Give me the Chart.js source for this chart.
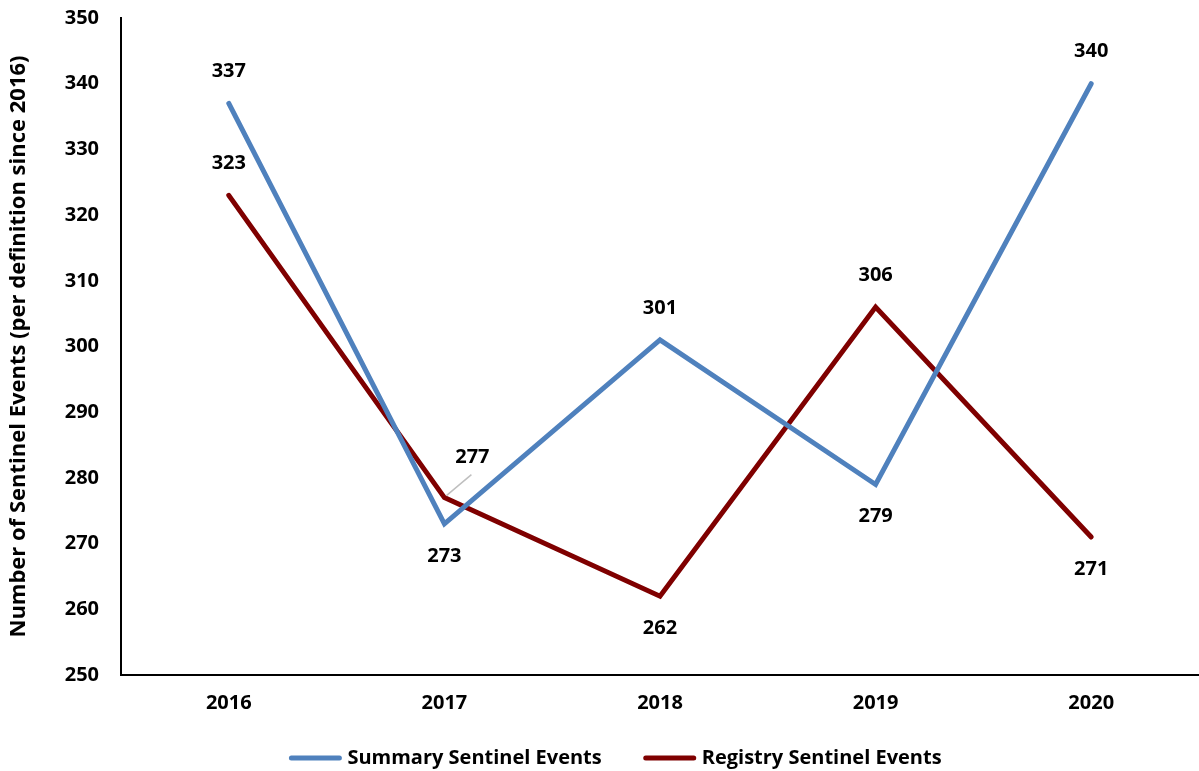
<!DOCTYPE html>
<html>
<head>
<meta charset="utf-8">
<script src="https://cdn.jsdelivr.net/npm/chart.js@4.4.1/dist/chart.umd.min.js"></script>
<style>
  html, body { margin: 0; padding: 0; background: #ffffff; }
  #wrap { width: 1199px; height: 771px; position: relative; }
</style>
</head>
<body>
<div id="wrap"><canvas id="chart"></canvas></div>
<script>
// Sentinel events per year
const years = ['2016', '2017', '2018', '2019', '2020'];
const summaryEvents = [337, 273, 301, 279, 340];
const registryEvents = [323, 277, 262, 306, 271];
const yTicks = [250, 260, 270, 280, 290, 300, 310, 320, 330, 340, 350];

// where each value label sits relative to its point
const summaryLabelPlacement = ['above', 'below', 'above', 'below', 'above'];
const registryLabelPlacement = ['above', 'leader', 'below', 'above', 'below'];

const FONT = '"Open Sans", Lato, sans-serif';
const BLUE = '#4f81bd';
const DARKRED = '#7f0000';

// value labels next to each point
const valueLabels = {
  id: 'valueLabels',
  afterDatasetsDraw(chart) {
    const ctx = chart.ctx;
    ctx.save();
    ctx.font = 'bold 20px ' + FONT;
    ctx.fillStyle = '#000';
    ctx.textAlign = 'center';
    ctx.textBaseline = 'middle';
    chart.data.datasets.forEach((ds, di) => {
      const meta = chart.getDatasetMeta(di);
      const placement = ds.labelPlacement;
      meta.data.forEach((pt, i) => {
        const v = ds.data[i];
        const p = placement[i];
        let x = pt.x, y = pt.y;
        if (p === 'above') {
          y -= 32;
        } else if (p === 'below') {
          y += 32;
        } else if (p === 'leader') {
          x += 28; y -= 40;
          ctx.save();
          ctx.strokeStyle = '#bfbfbf';
          ctx.lineWidth = 1.5;
          ctx.beginPath();
          ctx.moveTo(pt.x + 2, pt.y - 2);
          ctx.lineTo(pt.x + 27, pt.y - 23);
          ctx.stroke();
          ctx.restore();
        }
        ctx.fillText(String(v), x, y);
      });
    });
    ctx.restore();
  }
};

// legend row under the x axis: line sample followed by series name
const lineLegend = {
  id: 'lineLegend',
  afterDraw(chart) {
    const ctx = chart.ctx;
    const sample = 52, gapText = 6, gapItem = 42;
    const y = chart.height - 13;
    ctx.save();
    ctx.font = 'bold 20px ' + FONT;
    ctx.textBaseline = 'middle';
    ctx.textAlign = 'left';
    const items = chart.data.datasets.map(ds => ({
      ds, w: sample + gapText + ctx.measureText(ds.label).width
    }));
    const total = items.reduce((s, it) => s + it.w, 0) + gapItem * (items.length - 1);
    let x = chart.width / 2 + 16 - total / 2;
    items.forEach(it => {
      ctx.strokeStyle = it.ds.borderColor;
      ctx.lineWidth = 5;
      ctx.lineCap = 'round';
      ctx.beginPath();
      ctx.moveTo(x + 2, y);
      ctx.lineTo(x + sample - 2, y);
      ctx.stroke();
      ctx.fillStyle = '#000';
      ctx.fillText(it.ds.label, x + sample + gapText, y);
      x += it.w + gapItem;
    });
    ctx.restore();
  }
};

new Chart(document.getElementById('chart'), {
  type: 'line',
  data: {
    labels: years,
    datasets: [
      {
        label: 'Summary Sentinel Events',
        data: summaryEvents,
        labelPlacement: summaryLabelPlacement,
        borderColor: BLUE,
        backgroundColor: BLUE,
        borderWidth: 5,
        borderCapStyle: 'round',
        borderJoinStyle: 'miter',
        pointRadius: 0,
        pointHoverRadius: 0,
        tension: 0,
        fill: false
      },
      {
        label: 'Registry Sentinel Events',
        data: registryEvents,
        labelPlacement: registryLabelPlacement,
        borderColor: DARKRED,
        backgroundColor: DARKRED,
        borderWidth: 5,
        borderCapStyle: 'round',
        borderJoinStyle: 'miter',
        pointRadius: 0,
        pointHoverRadius: 0,
        tension: 0,
        fill: false
      }
    ]
  },
  options: {
    responsive: true,
    maintainAspectRatio: false,
    animation: false,
    layout: { padding: { top: 18, right: 0, left: 6, bottom: 40 } },
    plugins: {
      tooltip: { enabled: false },
      legend: { display: false }
    },
    scales: {
      x: {
        offset: true,
        grid: { display: false, drawTicks: false },
        border: { display: true, color: '#000', width: 2 },
        ticks: {
          color: '#000',
          padding: 16,
          font: { family: FONT, size: 20, weight: 'bold' }
        },
        afterFit(scale) { scale.height = 56; }
      },
      y: {
        min: 250,
        max: 350,
        afterBuildTicks(scale) { scale.ticks = yTicks.map(v => ({ value: v })); },
        grid: { display: false, drawTicks: false },
        border: { display: true, color: '#000', width: 2 },
        ticks: {
          color: '#000',
          padding: 22,
          font: { family: FONT, size: 20, weight: 'bold' }
        },
        title: {
          display: true,
          text: 'Number of Sentinel Events (per definition since 2016)',
          color: '#000',
          padding: { top: 0, bottom: 4 },
          font: { family: FONT, size: 22, weight: 'bold' }
        },
        afterFit(scale) {
          scale.width = 115;
          scale.paddingTop = 0;
          scale.paddingBottom = 0;
        }
      }
    }
  },
  plugins: [valueLabels, lineLegend]
});
</script>
</body>
</html>
